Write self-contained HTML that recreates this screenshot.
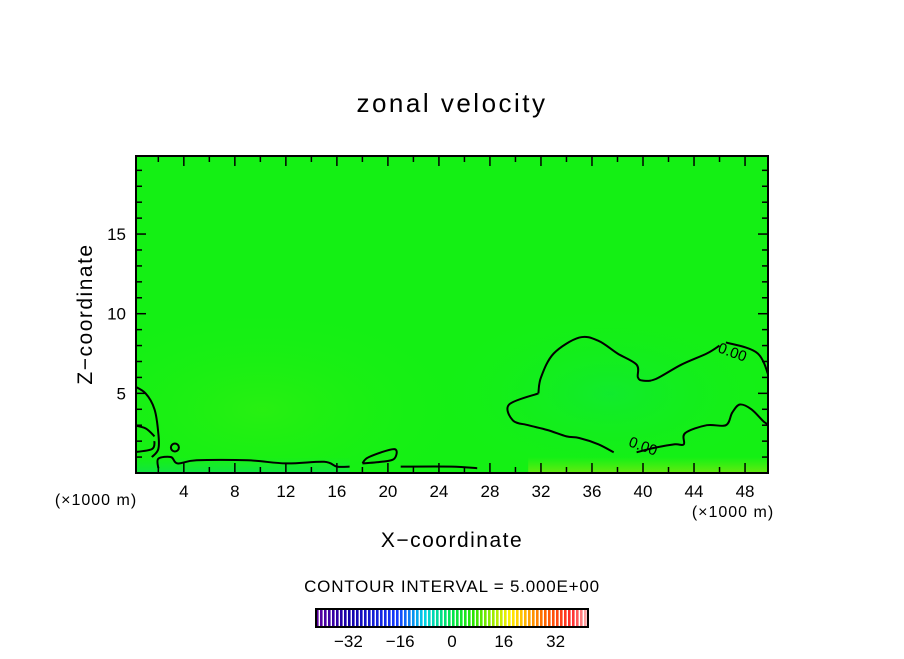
<!DOCTYPE html>
<html><head><meta charset="utf-8"><style>
body{margin:0;background:#fff;}
svg text{font-family:"Liberation Sans",sans-serif;}
</style></head><body>
<svg id="chart" width="904" height="654" xmlns="http://www.w3.org/2000/svg">
<defs>
<radialGradient id="g1" cx="0.75" cy="0.75" r="0.3"><stop offset="0" stop-color="#10e838" stop-opacity="0.7"/><stop offset="1" stop-color="#14f014" stop-opacity="0"/></radialGradient>
<radialGradient id="g2" cx="0.2" cy="0.8" r="0.35"><stop offset="0" stop-color="#30f010" stop-opacity="0.7"/><stop offset="1" stop-color="#14f014" stop-opacity="0"/></radialGradient>
<linearGradient id="g3" x1="0" y1="0" x2="0" y2="1"><stop offset="0" stop-color="#10e840" stop-opacity="0"/><stop offset="1" stop-color="#10e050" stop-opacity="0.8"/></linearGradient>
<linearGradient id="g4" x1="0" y1="0" x2="0" y2="1"><stop offset="0" stop-color="#60f010" stop-opacity="0"/><stop offset="1" stop-color="#70e810" stop-opacity="0.9"/></linearGradient>
<clipPath id="clip"><rect x="136" y="156" width="632" height="317"/></clipPath>
</defs>
<text x="452" y="112" font-size="26" letter-spacing="2.5" text-anchor="middle">zonal velocity</text>
<g id="plot"></g>
<text transform="translate(92,314) rotate(-90)" font-size="21" letter-spacing="1.5" text-anchor="middle">Z−coordinate</text>
<text x="452" y="547" font-size="21" letter-spacing="1.5" text-anchor="middle">X−coordinate</text>
<text x="96" y="505" font-size="16" letter-spacing="1" text-anchor="middle">(×1000 m)</text>
<text x="733" y="517" font-size="16" letter-spacing="1" text-anchor="middle">(×1000 m)</text>
<text x="452" y="592" font-size="17" letter-spacing="0.8" text-anchor="middle">CONTOUR INTERVAL = 5.000E+00</text>
<g id="cbar"></g>
</svg>
<script>
const xTicks=[4,8,12,16,20,24,28,32,36,40,44,48];
const yTicks=[5,10,15];
const cbarTicks=[-32,-16,0,16,32];
const contourA=[[31.8,5],[32,6],[33,7.5],[35,8.5],[36.5,8.3],[38,7.5],[39.5,6.8],[39.6,6],[40,5.8],[41,5.9],[43,6.8],[45,7.5],[46,8]];
const contourB=[[46.5,8.2],[49,7.5],[50,5.7]];
const contourC=[[31.8,5],[29.5,4.3],[29.8,3.3],[31,3],[32.5,2.7],[34,2.3],[35,2.2],[36.5,1.8],[37.7,1.3]];
const contourD=[[39.5,1.3],[41,1.6],[42.5,1.8],[43.2,1.8],[43.3,2.5],[45,3],[46.5,3],[47,3.8],[47.6,4.3],[48.5,4],[49.5,3.2],[50,3]];
const contourE=[[0,5.5],[1,5],[1.7,4],[2,2.5],[2,1.5],[1.5,1]];
const contourF=[[0,3],[1,2.8],[1.7,2.3]];
const contourG=[[0,1.3],[1.5,1.5],[1.7,2]];
const contourH=[[2,0.3],[2,0.9],[3,1],[3.5,0.6],[5,0.8],[9,0.8],[12,0.6],[15,0.7],[16,0.4],[17,0.4]];
const contourI=[[18,0.6],[18.5,1],[20.5,1.5],[20.5,0.9],[19.5,0.7],[18,0.6]];
const contourJ=[[21,0.4],[25,0.4],[27,0.3]];
const xMin=0.25,xMax=49.8,yMin=0,yMax=19.9;
const L=136,R=768,T=156,B=473;
const sx=v=>L+(v-xMin)/(xMax-xMin)*(R-L);
const sy=v=>B-(v-yMin)/(yMax-yMin)*(B-T);
const NS='http://www.w3.org/2000/svg';
function mk(parent,tag,attrs){const e=document.createElementNS(NS,tag);for(const k in attrs)e.setAttribute(k,attrs[k]);parent.appendChild(e);return e;}
function smooth(c){const p=c.map(q=>[sx(q[0]),sy(q[1])]);let d='M'+p[0][0].toFixed(1)+','+p[0][1].toFixed(1);
 for(let i=0;i<p.length-1;i++){const p0=p[Math.max(0,i-1)],p1=p[i],p2=p[i+1],p3=p[Math.min(p.length-1,i+2)];
 const c1=[p1[0]+(p2[0]-p0[0])/6,p1[1]+(p2[1]-p0[1])/6],c2=[p2[0]-(p3[0]-p1[0])/6,p2[1]-(p3[1]-p1[1])/6];
 d+='C'+c1.map(v=>v.toFixed(1)).join(',')+' '+c2.map(v=>v.toFixed(1)).join(',')+' '+p2.map(v=>v.toFixed(1)).join(',');}return d;}
const plot=document.getElementById('plot');
let bg=mk(plot,'rect',{x:L,y:T,width:R-L,height:B-T,fill:'#14f014'});


mk(plot,'rect',{x:L,y:T,width:R-L,height:B-T,fill:'url(#g1)'});
mk(plot,'rect',{x:L,y:T,width:R-L,height:B-T,fill:'url(#g2)'});
mk(plot,'rect',{x:L,y:sy(1),width:sx(17)-L,height:B-sy(1),fill:'url(#g3)'});
mk(plot,'rect',{x:sx(31),y:sy(1),width:R-sx(31),height:B-sy(1),fill:'url(#g4)'});
const cg=mk(plot,'g',{'clip-path':'url(#clip)'});
const contours=[contourA,contourB,contourC,contourD,contourE,contourF,contourG,contourH,contourI,contourJ];
contours.forEach((c,i)=>{
 const p=mk(cg,'path',{d:smooth(c),fill:'none',stroke:'#000','stroke-width':2});
 
 
});
let c1=mk(plot,'circle',{cx:sx(3.3),cy:sy(1.6),r:4,fill:'none',stroke:'#000','stroke-width':2});


[[45.8,7.6,20],[38.8,1.7,20]].forEach((l,i)=>{
 const t=mk(plot,'text',{x:sx(l[0]),y:sy(l[1]),'font-size':15,transform:`rotate(${l[2]} ${sx(l[0])} ${sy(l[1])})`});
 t.textContent='0.00';
 
 
});
mk(plot,'rect',{x:L,y:T,width:R-L,height:B-T,fill:'none',stroke:'#000','stroke-width':2});
for(let v=2;v<50;v+=2){const major=v%4===0;const len=major?10:6;
 mk(plot,'line',{x1:sx(v),x2:sx(v),y1:B,y2:B-len,stroke:'#000','stroke-width':1.5});
 mk(plot,'line',{x1:sx(v),x2:sx(v),y1:T,y2:T+len,stroke:'#000','stroke-width':1.5});}
for(let v=1;v<20;v++){const major=v%5===0;const len=major?10:6;
 mk(plot,'line',{x1:L,x2:L+len,y1:sy(v),y2:sy(v),stroke:'#000','stroke-width':1.5});
 mk(plot,'line',{x1:R,x2:R-len,y1:sy(v),y2:sy(v),stroke:'#000','stroke-width':1.5});}
xTicks.forEach(v=>{const t=mk(plot,'text',{x:sx(v),y:497,'font-size':17,'text-anchor':'middle'});t.textContent=v;
 
 });
yTicks.forEach(v=>{const t=mk(plot,'text',{x:126,y:sy(v)+6,'font-size':17,'text-anchor':'end'});t.textContent=v;
 
 });
const cb=document.getElementById('cbar');
const cL=316,cR=588,cT=609,cB=627,vMin=-42,vMax=42;
const cx=v=>cL+(v-vMin)/(vMax-vMin)*(cR-cL);
function col(f){const stops=[[0,[90,0,160]],[0.12,[20,0,170]],[0.3,[20,60,255]],[0.4,[0,210,230]],[0.5,[0,230,80]],[0.58,[40,230,0]],[0.72,[255,240,0]],[0.85,[255,100,0]],[0.95,[255,40,40]],[1,[255,160,160]]];
 for(let i=1;i<stops.length;i++)if(f<=stops[i][0]){const a=stops[i-1],b=stops[i],t=(f-a[0])/(b[0]-a[0]);return 'rgb('+a[1].map((c,k)=>Math.round(c+(b[1][k]-c)*t)).join(',')+')';}return 'rgb(255,160,160)';}
const n=68,w=(cR-cL)/n;
for(let i=0;i<n;i++){mk(cb,'rect',{x:cL+i*w,y:cT,width:w,height:cB-cT,fill:'#fff'});mk(cb,'rect',{x:cL+i*w,y:cT,width:w*0.65,height:cB-cT,fill:col(i/(n-1))});}
mk(cb,'rect',{x:cL,y:cT,width:cR-cL,height:cB-cT,fill:'none',stroke:'#000','stroke-width':2});
cbarTicks.forEach(v=>{const t=mk(cb,'text',{x:cx(v),y:647,'font-size':17,'text-anchor':'middle'});t.textContent=(v<0?'−'+(-v):v);
 
 });
</script>
</body></html>
